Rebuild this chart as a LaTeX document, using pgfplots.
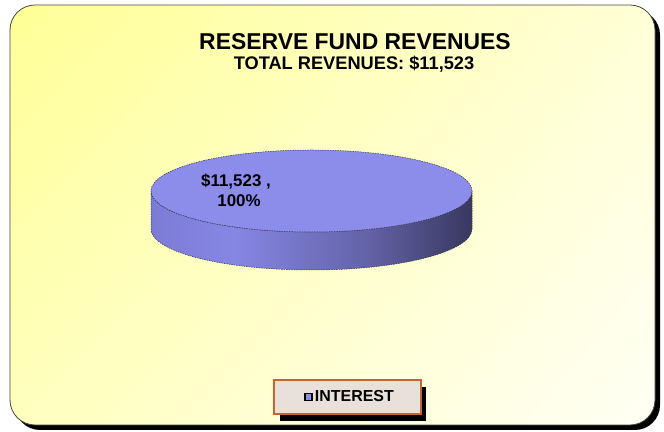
\documentclass[border=0pt]{standalone}
\usepackage{pgfplots}
\pgfplotsset{compat=1.18}
\usepackage{pgfplotstable}
\usepackage{fontspec}
\setmainfont{Liberation Sans}
\usetikzlibrary{shadings}

\definecolor{pietop}{RGB}{140,140,235}
\definecolor{sideA}{RGB}{124,124,214}
\definecolor{sideB}{RGB}{134,134,228}
\definecolor{sideC}{RGB}{100,100,170}
\definecolor{sideD}{RGB}{56,56,96}
\definecolor{pieedge}{RGB}{50,50,80}
\definecolor{legfill}{RGB}{231,225,217}
\definecolor{legdraw}{RGB}{200,100,50}
\definecolor{bgUL}{RGB}{255,255,150}
\definecolor{bgUR}{RGB}{255,255,215}
\definecolor{bgLL}{RGB}{255,255,190}
\definecolor{bgLR}{RGB}{255,255,245}
\definecolor{frame}{RGB}{70,70,70}

\pgfdeclarehorizontalshading{pieside}{100bp}{color(0bp)=(sideA); color(25bp)=(sideA);
  color(38bp)=(sideB); color(58bp)=(sideC); color(75bp)=(sideD); color(100bp)=(sideD)}

% reserve fund revenues by source
\pgfplotstableread{
category value
INTEREST 11523
}\revtable
\def\revtotal{11523}

\begin{document}
\begin{tikzpicture}
\pgfplotstablegetelem{0}{value}\of\revtable
\let\revval\pgfplotsretval
\pgfmathsetmacro\revpct{100*(\revval/\revtotal)}
\begin{axis}[
  width=664bp, height=432bp, scale only axis, hide axis,
  xmin=0, xmax=664, ymin=0, ymax=432, clip=false,
  legend style={at={(axis cs:350,35)}, anchor=center,
    draw=none, fill=none, inner sep=0pt,
    font=\fontsize{16}{18}\selectfont\bfseries},
  legend image code/.code={\draw[fill=pietop, draw=black, line width=1.6bp]
    (0bp,-3.6bp) rectangle (7.2bp,3.6bp);}
]
% page extent
\path (axis cs:0,0) rectangle (axis cs:664,432);
% frame with shadow
\fill[black, rounded corners=25bp] (axis cs:15,2) rectangle (axis cs:660,422);
\shadedraw[rounded corners=25bp, upper left=bgUL, upper right=bgUR,
  lower left=bgLL, lower right=bgLR, draw=frame, line width=0.8bp]
  (axis cs:10,7) rectangle (axis cs:655,427);

% titles
\node[anchor=base, font=\fontsize{23}{26}\selectfont\bfseries] at (axis cs:355,382) {RESERVE FUND REVENUES};
\node[anchor=base, font=\fontsize{18.3}{20}\selectfont\bfseries] at (axis cs:354,362) {TOTAL REVENUES: \$11,523};

% the single slice: side then top
\shadedraw[shading=pieside, draw=pieedge, line width=0.5bp, dash pattern=on 1.5bp off 1bp]
  (axis cs:151,241) -- (axis cs:151,203)
  arc[start angle=180, end angle=360, x radius=160.5bp, y radius=41bp]
  -- (axis cs:472,241)
  arc[start angle=360, end angle=180, x radius=160.5bp, y radius=41bp] -- cycle;
\filldraw[fill=pietop, draw=pieedge, line width=0.5bp, dash pattern=on 1.5bp off 1bp]
  (axis cs:311.5,241) ellipse[x radius=160.5bp, y radius=41bp];

\node[anchor=base, font=\fontsize{17}{20}\selectfont\bfseries] at (axis cs:236,245)
  {\$\pgfmathprintnumber[fixed, precision=0, 1000 sep={,}, assume math mode=true]{\revval}~,};
\node[anchor=base, font=\fontsize{17}{20}\selectfont\bfseries] at (axis cs:239,225)
  {\pgfmathprintnumber[fixed, precision=0, assume math mode=true]{\revpct}\%};

% legend box with shadow
\fill[black] (axis cs:280,11) rectangle (axis cs:426,45);
\filldraw[fill=legfill, draw=legdraw, line width=1.5bp] (axis cs:274,18) rectangle (axis cs:421,52);

\addlegendimage{}
\addlegendentry{INTEREST}
\end{axis}
\end{tikzpicture}
\end{document}
